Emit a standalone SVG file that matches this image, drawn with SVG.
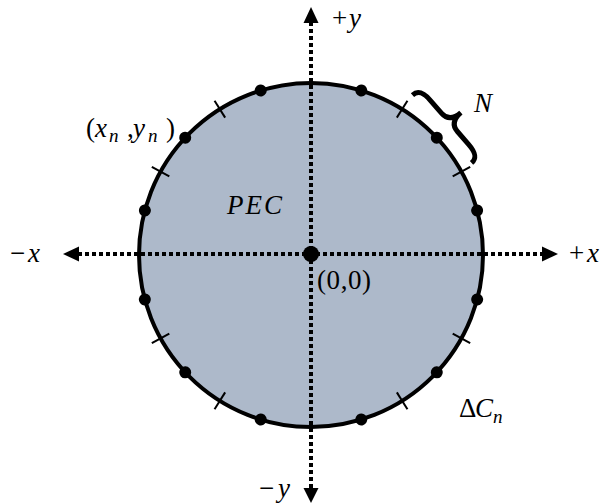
<svg xmlns="http://www.w3.org/2000/svg" xmlns:xlink="http://www.w3.org/1999/xlink" width="601" height="503" viewBox="0 0 601 503">
<style>
.t{font-family:"Liberation Serif","DejaVu Serif",serif;font-size:27px;fill:#000}
.i{font-style:italic}
.s{font-size:19px;font-style:italic}
.ax{stroke:#000;stroke-width:4;stroke-dasharray:4 3;fill:none}
.tk{stroke:#000;stroke-width:2}
</style>
<defs>
<line id="tick" x1="311" y1="73" x2="311" y2="93" class="tk"/>
<circle id="dot" cx="311" cy="83" r="6" fill="#000"/>
</defs>
<rect width="601" height="503" fill="#fff"/>
<g id="pec">
<circle cx="311" cy="255" r="172" fill="#ADB9CA" stroke="#000" stroke-width="4"/>
</g>
<g id="axes">
<line class="ax" x1="78" y1="254" x2="544" y2="254"/>
<line class="ax" x1="311" y1="22" x2="311" y2="489"/>
<polygon points="311,7 303.5,23 318.5,23" fill="#000"/>
<polygon points="311,503 303.5,488 318.5,488" fill="#000"/>
<polygon points="63,254 79,246.5 79,261.5" fill="#000"/>
<polygon points="558,254 542,246.5 542,261.5" fill="#000"/>
</g>
<g id="ticks">
<use xlink:href="#tick" transform="rotate(32 311 255)"/>
<use xlink:href="#tick" transform="rotate(61 311 255)"/>
<use xlink:href="#tick" transform="rotate(119 311 255)"/>
<use xlink:href="#tick" transform="rotate(148 311 255)"/>
<use xlink:href="#tick" transform="rotate(212 311 255)"/>
<use xlink:href="#tick" transform="rotate(241 311 255)"/>
<use xlink:href="#tick" transform="rotate(299 311 255)"/>
<use xlink:href="#tick" transform="rotate(328 311 255)"/>
</g>
<g id="points">
<use xlink:href="#dot" transform="rotate(17 311 255)"/>
<use xlink:href="#dot" transform="rotate(47 311 255)"/>
<use xlink:href="#dot" transform="rotate(75 311 255)"/>
<use xlink:href="#dot" transform="rotate(105 311 255)"/>
<use xlink:href="#dot" transform="rotate(133 311 255)"/>
<use xlink:href="#dot" transform="rotate(163 311 255)"/>
<use xlink:href="#dot" transform="rotate(197 311 255)"/>
<use xlink:href="#dot" transform="rotate(227 311 255)"/>
<use xlink:href="#dot" transform="rotate(255 311 255)"/>
<use xlink:href="#dot" transform="rotate(285 311 255)"/>
<use xlink:href="#dot" transform="rotate(313 311 255)"/>
<use xlink:href="#dot" transform="rotate(343 311 255)"/>
</g>
<g id="origin">
<circle cx="311" cy="254" r="8" fill="#000"/>
<text class="t" x="317" y="289" font-size="26" textLength="54">(0,0)</text>
</g>
<g id="brace">
<path d="M0,-45 C8,-45 10,-39 10,-29 L10,-12 C10,-4 15,0 25,0 C15,0 10,4 10,12 L10,29 C10,39 8,45 0,45" transform="translate(442,129) rotate(-41)" fill="none" stroke="#000" stroke-width="5"/>
</g>
<g id="labels">
<text class="t" y="27"><tspan x="332">+</tspan><tspan class="i" x="349">y</tspan></text>
<text class="t" y="262"><tspan x="569">+</tspan><tspan class="i" x="587">x</tspan></text>
<text class="t" y="262"><tspan x="10">−</tspan><tspan class="i" x="28">x</tspan></text>
<text class="t" y="497"><tspan x="259">−</tspan><tspan class="i" x="278">y</tspan></text>
<text class="t i" x="227" y="214" font-size="31" textLength="55">PEC</text>
<text class="t i" x="474" y="112" font-size="27">N</text>
<text class="t" y="417" font-size="25"><tspan x="459">Δ</tspan><tspan class="i" x="475">C</tspan><tspan class="s" x="493" dy="6">n</tspan></text>
<text class="t" y="137"><tspan x="86">(</tspan><tspan class="i" x="95">x</tspan><tspan class="s" x="109" dy="5">n</tspan><tspan x="127" dy="-5">,</tspan><tspan class="i" x="133">y</tspan><tspan class="s" x="148" dy="5">n</tspan><tspan x="166" dy="-5">)</tspan></text>
</g>
</svg>
